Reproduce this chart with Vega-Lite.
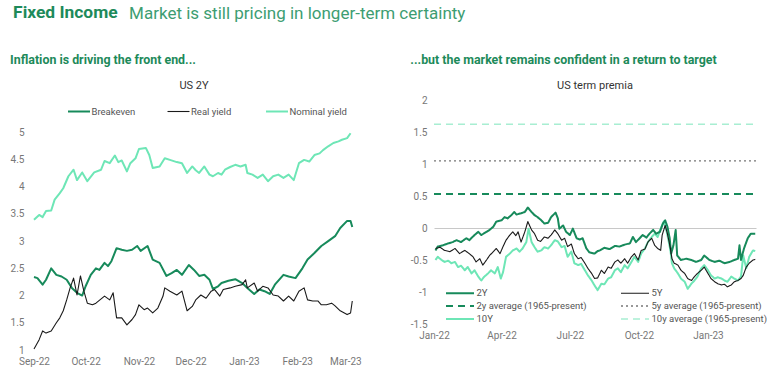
{
  "$schema": "https://vega.github.io/schema/vega-lite/v6.json",
  "background": "white",
  "padding": {"left": 10, "right": 10, "top": 4, "bottom": 4},
  "config": {
    "font": "Roboto",
    "view": {"stroke": null},
    "locale": {"number": {"decimal": ".", "thousands": ",", "grouping": [3], "currency": ["$", ""], "minus": "-"}},
    "axis": {"domain": false, "ticks": false, "grid": false, "labelFont": "Roboto", "labelFontSize": 10, "labelColor": "#777777", "labelFlush": false, "labelOverlap": false},
    "legend": {"labelFont": "Roboto", "labelFontSize": 9.5, "labelColor": "#555555"},
    "title": {"font": "Roboto"}
  },
  "datasets": {
    "us2y": [
      {"d":"2022-09-01","s":"Nominal yield","v":3.39},{"d":"2022-09-04","s":"Nominal yield","v":3.48},{"d":"2022-09-06","s":"Nominal yield","v":3.44},{"d":"2022-09-08","s":"Nominal yield","v":3.55},{"d":"2022-09-11","s":"Nominal yield","v":3.56},{"d":"2022-09-13","s":"Nominal yield","v":3.76},{"d":"2022-09-16","s":"Nominal yield","v":3.88},{"d":"2022-09-18","s":"Nominal yield","v":3.97},{"d":"2022-09-21","s":"Nominal yield","v":4.19},{"d":"2022-09-24","s":"Nominal yield","v":4.31},{"d":"2022-09-26","s":"Nominal yield","v":4.12},{"d":"2022-09-29","s":"Nominal yield","v":4.26},{"d":"2022-10-02","s":"Nominal yield","v":4.10},{"d":"2022-10-06","s":"Nominal yield","v":4.26},{"d":"2022-10-10","s":"Nominal yield","v":4.31},{"d":"2022-10-12","s":"Nominal yield","v":4.47},{"d":"2022-10-15","s":"Nominal yield","v":4.43},{"d":"2022-10-18","s":"Nominal yield","v":4.57},{"d":"2022-10-20","s":"Nominal yield","v":4.45},{"d":"2022-10-22","s":"Nominal yield","v":4.48},{"d":"2022-10-25","s":"Nominal yield","v":4.28},{"d":"2022-10-27","s":"Nominal yield","v":4.43},{"d":"2022-10-30","s":"Nominal yield","v":4.52},{"d":"2022-11-01","s":"Nominal yield","v":4.69},{"d":"2022-11-05","s":"Nominal yield","v":4.71},{"d":"2022-11-07","s":"Nominal yield","v":4.58},{"d":"2022-11-09","s":"Nominal yield","v":4.34},{"d":"2022-11-13","s":"Nominal yield","v":4.37},{"d":"2022-11-16","s":"Nominal yield","v":4.52},{"d":"2022-11-19","s":"Nominal yield","v":4.49},{"d":"2022-11-23","s":"Nominal yield","v":4.45},{"d":"2022-11-26","s":"Nominal yield","v":4.43},{"d":"2022-11-29","s":"Nominal yield","v":4.25},{"d":"2022-12-02","s":"Nominal yield","v":4.37},{"d":"2022-12-04","s":"Nominal yield","v":4.30},{"d":"2022-12-06","s":"Nominal yield","v":4.25},{"d":"2022-12-09","s":"Nominal yield","v":4.37},{"d":"2022-12-12","s":"Nominal yield","v":4.22},{"d":"2022-12-14","s":"Nominal yield","v":4.19},{"d":"2022-12-17","s":"Nominal yield","v":4.25},{"d":"2022-12-19","s":"Nominal yield","v":4.22},{"d":"2022-12-21","s":"Nominal yield","v":4.31},{"d":"2022-12-24","s":"Nominal yield","v":4.36},{"d":"2022-12-27","s":"Nominal yield","v":4.40},{"d":"2022-12-30","s":"Nominal yield","v":4.37},{"d":"2023-01-02","s":"Nominal yield","v":4.40},{"d":"2023-01-03","s":"Nominal yield","v":4.25},{"d":"2023-01-06","s":"Nominal yield","v":4.22},{"d":"2023-01-09","s":"Nominal yield","v":4.16},{"d":"2023-01-12","s":"Nominal yield","v":4.22},{"d":"2023-01-15","s":"Nominal yield","v":4.10},{"d":"2023-01-18","s":"Nominal yield","v":4.19},{"d":"2023-01-21","s":"Nominal yield","v":4.22},{"d":"2023-01-24","s":"Nominal yield","v":4.16},{"d":"2023-01-27","s":"Nominal yield","v":4.22},{"d":"2023-01-30","s":"Nominal yield","v":4.12},{"d":"2023-02-02","s":"Nominal yield","v":4.43},{"d":"2023-02-05","s":"Nominal yield","v":4.49},{"d":"2023-02-08","s":"Nominal yield","v":4.46},{"d":"2023-02-11","s":"Nominal yield","v":4.58},{"d":"2023-02-14","s":"Nominal yield","v":4.61},{"d":"2023-02-16","s":"Nominal yield","v":4.67},{"d":"2023-02-19","s":"Nominal yield","v":4.74},{"d":"2023-02-22","s":"Nominal yield","v":4.80},{"d":"2023-02-25","s":"Nominal yield","v":4.83},{"d":"2023-02-27","s":"Nominal yield","v":4.86},{"d":"2023-03-02","s":"Nominal yield","v":4.89},{"d":"2023-03-04","s":"Nominal yield","v":4.98},
      {"d":"2022-09-01","s":"Breakeven","v":2.34},{"d":"2022-09-03","s":"Breakeven","v":2.32},{"d":"2022-09-06","s":"Breakeven","v":2.20},{"d":"2022-09-08","s":"Breakeven","v":2.29},{"d":"2022-09-11","s":"Breakeven","v":2.50},{"d":"2022-09-14","s":"Breakeven","v":2.38},{"d":"2022-09-17","s":"Breakeven","v":2.35},{"d":"2022-09-20","s":"Breakeven","v":2.29},{"d":"2022-09-23","s":"Breakeven","v":2.14},{"d":"2022-09-26","s":"Breakeven","v":2.05},{"d":"2022-09-29","s":"Breakeven","v":2.00},{"d":"2022-10-01","s":"Breakeven","v":2.17},{"d":"2022-10-04","s":"Breakeven","v":2.38},{"d":"2022-10-07","s":"Breakeven","v":2.50},{"d":"2022-10-09","s":"Breakeven","v":2.47},{"d":"2022-10-12","s":"Breakeven","v":2.60},{"d":"2022-10-14","s":"Breakeven","v":2.54},{"d":"2022-10-16","s":"Breakeven","v":2.63},{"d":"2022-10-19","s":"Breakeven","v":2.87},{"d":"2022-10-22","s":"Breakeven","v":2.84},{"d":"2022-10-25","s":"Breakeven","v":2.82},{"d":"2022-10-28","s":"Breakeven","v":2.84},{"d":"2022-10-31","s":"Breakeven","v":2.91},{"d":"2022-11-02","s":"Breakeven","v":2.82},{"d":"2022-11-06","s":"Breakeven","v":2.91},{"d":"2022-11-09","s":"Breakeven","v":2.66},{"d":"2022-11-13","s":"Breakeven","v":2.60},{"d":"2022-11-17","s":"Breakeven","v":2.36},{"d":"2022-11-20","s":"Breakeven","v":2.41},{"d":"2022-11-23","s":"Breakeven","v":2.47},{"d":"2022-11-26","s":"Breakeven","v":2.38},{"d":"2022-11-30","s":"Breakeven","v":2.56},{"d":"2022-12-03","s":"Breakeven","v":2.47},{"d":"2022-12-06","s":"Breakeven","v":2.36},{"d":"2022-12-09","s":"Breakeven","v":2.38},{"d":"2022-12-12","s":"Breakeven","v":2.29},{"d":"2022-12-14","s":"Breakeven","v":2.12},{"d":"2022-12-17","s":"Breakeven","v":2.17},{"d":"2022-12-19","s":"Breakeven","v":2.23},{"d":"2022-12-23","s":"Breakeven","v":2.27},{"d":"2022-12-27","s":"Breakeven","v":2.30},{"d":"2022-12-31","s":"Breakeven","v":2.23},{"d":"2023-01-03","s":"Breakeven","v":2.14},{"d":"2023-01-07","s":"Breakeven","v":2.03},{"d":"2023-01-10","s":"Breakeven","v":2.11},{"d":"2023-01-13","s":"Breakeven","v":2.08},{"d":"2023-01-16","s":"Breakeven","v":2.03},{"d":"2023-01-19","s":"Breakeven","v":2.20},{"d":"2023-01-24","s":"Breakeven","v":2.38},{"d":"2023-01-27","s":"Breakeven","v":2.35},{"d":"2023-01-31","s":"Breakeven","v":2.32},{"d":"2023-02-04","s":"Breakeven","v":2.50},{"d":"2023-02-07","s":"Breakeven","v":2.66},{"d":"2023-02-11","s":"Breakeven","v":2.78},{"d":"2023-02-15","s":"Breakeven","v":2.91},{"d":"2023-02-19","s":"Breakeven","v":3.00},{"d":"2023-02-23","s":"Breakeven","v":3.09},{"d":"2023-02-26","s":"Breakeven","v":3.24},{"d":"2023-03-02","s":"Breakeven","v":3.37},{"d":"2023-03-04","s":"Breakeven","v":3.37},{"d":"2023-03-05","s":"Breakeven","v":3.26},
      {"d":"2022-09-01","s":"Real yield","v":1.02},{"d":"2022-09-04","s":"Real yield","v":1.19},{"d":"2022-09-06","s":"Real yield","v":1.35},{"d":"2022-09-08","s":"Real yield","v":1.31},{"d":"2022-09-11","s":"Real yield","v":1.35},{"d":"2022-09-14","s":"Real yield","v":1.50},{"d":"2022-09-16","s":"Real yield","v":1.59},{"d":"2022-09-18","s":"Real yield","v":1.72},{"d":"2022-09-20","s":"Real yield","v":1.92},{"d":"2022-09-22","s":"Real yield","v":2.14},{"d":"2022-09-24","s":"Real yield","v":2.32},{"d":"2022-09-26","s":"Real yield","v":2.01},{"d":"2022-09-28","s":"Real yield","v":2.36},{"d":"2022-09-30","s":"Real yield","v":2.08},{"d":"2022-10-02","s":"Real yield","v":1.86},{"d":"2022-10-05","s":"Real yield","v":1.83},{"d":"2022-10-07","s":"Real yield","v":1.86},{"d":"2022-10-12","s":"Real yield","v":1.99},{"d":"2022-10-15","s":"Real yield","v":1.92},{"d":"2022-10-17","s":"Real yield","v":2.05},{"d":"2022-10-19","s":"Real yield","v":1.59},{"d":"2022-10-22","s":"Real yield","v":1.59},{"d":"2022-10-25","s":"Real yield","v":1.46},{"d":"2022-10-28","s":"Real yield","v":1.56},{"d":"2022-10-30","s":"Real yield","v":1.65},{"d":"2022-11-01","s":"Real yield","v":1.83},{"d":"2022-11-04","s":"Real yield","v":1.74},{"d":"2022-11-06","s":"Real yield","v":1.77},{"d":"2022-11-09","s":"Real yield","v":1.68},{"d":"2022-11-12","s":"Real yield","v":1.77},{"d":"2022-11-15","s":"Real yield","v":1.99},{"d":"2022-11-16","s":"Real yield","v":2.14},{"d":"2022-11-19","s":"Real yield","v":2.08},{"d":"2022-11-23","s":"Real yield","v":2.01},{"d":"2022-11-26","s":"Real yield","v":2.08},{"d":"2022-11-29","s":"Real yield","v":1.72},{"d":"2022-12-02","s":"Real yield","v":1.80},{"d":"2022-12-04","s":"Real yield","v":1.92},{"d":"2022-12-07","s":"Real yield","v":2.01},{"d":"2022-12-10","s":"Real yield","v":1.95},{"d":"2022-12-13","s":"Real yield","v":2.08},{"d":"2022-12-15","s":"Real yield","v":2.11},{"d":"2022-12-18","s":"Real yield","v":1.99},{"d":"2022-12-20","s":"Real yield","v":2.11},{"d":"2022-12-24","s":"Real yield","v":2.14},{"d":"2022-12-27","s":"Real yield","v":2.17},{"d":"2022-12-31","s":"Real yield","v":2.20},{"d":"2023-01-02","s":"Real yield","v":2.29},{"d":"2023-01-03","s":"Real yield","v":2.14},{"d":"2023-01-07","s":"Real yield","v":2.23},{"d":"2023-01-09","s":"Real yield","v":2.08},{"d":"2023-01-12","s":"Real yield","v":2.17},{"d":"2023-01-15","s":"Real yield","v":2.14},{"d":"2023-01-18","s":"Real yield","v":2.01},{"d":"2023-01-21","s":"Real yield","v":1.99},{"d":"2023-01-24","s":"Real yield","v":1.90},{"d":"2023-01-27","s":"Real yield","v":1.99},{"d":"2023-01-30","s":"Real yield","v":1.90},{"d":"2023-02-02","s":"Real yield","v":2.08},{"d":"2023-02-05","s":"Real yield","v":2.14},{"d":"2023-02-07","s":"Real yield","v":1.92},{"d":"2023-02-10","s":"Real yield","v":1.90},{"d":"2023-02-13","s":"Real yield","v":1.90},{"d":"2023-02-15","s":"Real yield","v":1.83},{"d":"2023-02-18","s":"Real yield","v":1.83},{"d":"2023-02-21","s":"Real yield","v":1.86},{"d":"2023-02-23","s":"Real yield","v":1.81},{"d":"2023-02-26","s":"Real yield","v":1.72},{"d":"2023-03-02","s":"Real yield","v":1.65},{"d":"2023-03-04","s":"Real yield","v":1.68},{"d":"2023-03-05","s":"Real yield","v":1.90}
    ],
    "premia": [
      {"d":"2022-01-01","s":"2y average (1965-present)","v":0.53},{"d":"2023-03-06","s":"2y average (1965-present)","v":0.53},
      {"d":"2022-01-01","s":"5y average  (1965-present)","v":1.05},{"d":"2023-03-06","s":"5y average  (1965-present)","v":1.05},
      {"d":"2022-01-01","s":"10y average  (1965-present)","v":1.62},{"d":"2023-03-06","s":"10y average  (1965-present)","v":1.62},
      {"d":"2022-01-03","s":"10Y","v":-0.50},{"d":"2022-01-06","s":"10Y","v":-0.45},{"d":"2022-01-10","s":"10Y","v":-0.49},{"d":"2022-01-15","s":"10Y","v":-0.53},{"d":"2022-01-20","s":"10Y","v":-0.51},{"d":"2022-01-24","s":"10Y","v":-0.55},{"d":"2022-01-29","s":"10Y","v":-0.53},{"d":"2022-02-02","s":"10Y","v":-0.61},{"d":"2022-02-06","s":"10Y","v":-0.59},{"d":"2022-02-11","s":"10Y","v":-0.66},{"d":"2022-02-15","s":"10Y","v":-0.61},{"d":"2022-02-20","s":"10Y","v":-0.71},{"d":"2022-02-24","s":"10Y","v":-0.66},{"d":"2022-03-01","s":"10Y","v":-0.76},{"d":"2022-03-05","s":"10Y","v":-0.82},{"d":"2022-03-09","s":"10Y","v":-0.76},{"d":"2022-03-14","s":"10Y","v":-0.71},{"d":"2022-03-18","s":"10Y","v":-0.66},{"d":"2022-03-23","s":"10Y","v":-0.71},{"d":"2022-03-27","s":"10Y","v":-0.61},{"d":"2022-03-31","s":"10Y","v":-0.79},{"d":"2022-04-03","s":"10Y","v":-0.69},{"d":"2022-04-07","s":"10Y","v":-0.45},{"d":"2022-04-12","s":"10Y","v":-0.40},{"d":"2022-04-16","s":"10Y","v":-0.35},{"d":"2022-04-21","s":"10Y","v":-0.32},{"d":"2022-04-25","s":"10Y","v":-0.37},{"d":"2022-04-29","s":"10Y","v":-0.32},{"d":"2022-05-04","s":"10Y","v":-0.22},{"d":"2022-05-07","s":"10Y","v":-0.01},{"d":"2022-05-11","s":"10Y","v":-0.22},{"d":"2022-05-15","s":"10Y","v":-0.30},{"d":"2022-05-19","s":"10Y","v":-0.37},{"d":"2022-05-24","s":"10Y","v":-0.35},{"d":"2022-05-28","s":"10Y","v":-0.30},{"d":"2022-06-02","s":"10Y","v":-0.32},{"d":"2022-06-06","s":"10Y","v":-0.27},{"d":"2022-06-11","s":"10Y","v":-0.19},{"d":"2022-06-15","s":"10Y","v":-0.21},{"d":"2022-06-20","s":"10Y","v":-0.30},{"d":"2022-06-24","s":"10Y","v":-0.28},{"d":"2022-06-28","s":"10Y","v":-0.45},{"d":"2022-07-03","s":"10Y","v":-0.37},{"d":"2022-07-07","s":"10Y","v":-0.55},{"d":"2022-07-12","s":"10Y","v":-0.58},{"d":"2022-07-16","s":"10Y","v":-0.56},{"d":"2022-07-21","s":"10Y","v":-0.66},{"d":"2022-07-25","s":"10Y","v":-0.74},{"d":"2022-07-30","s":"10Y","v":-0.82},{"d":"2022-08-03","s":"10Y","v":-0.90},{"d":"2022-08-07","s":"10Y","v":-0.97},{"d":"2022-08-12","s":"10Y","v":-0.87},{"d":"2022-08-16","s":"10Y","v":-0.88},{"d":"2022-08-21","s":"10Y","v":-0.79},{"d":"2022-08-25","s":"10Y","v":-0.77},{"d":"2022-08-30","s":"10Y","v":-0.66},{"d":"2022-09-03","s":"10Y","v":-0.63},{"d":"2022-09-07","s":"10Y","v":-0.69},{"d":"2022-09-12","s":"10Y","v":-0.58},{"d":"2022-09-16","s":"10Y","v":-0.63},{"d":"2022-09-21","s":"10Y","v":-0.53},{"d":"2022-09-25","s":"10Y","v":-0.45},{"d":"2022-09-30","s":"10Y","v":-0.53},{"d":"2022-10-04","s":"10Y","v":-0.40},{"d":"2022-10-09","s":"10Y","v":-0.32},{"d":"2022-10-13","s":"10Y","v":-0.22},{"d":"2022-10-18","s":"10Y","v":-0.14},{"d":"2022-10-22","s":"10Y","v":-0.09},{"d":"2022-10-26","s":"10Y","v":-0.14},{"d":"2022-10-30","s":"10Y","v":-0.01},{"d":"2022-11-03","s":"10Y","v":0.10},{"d":"2022-11-05","s":"10Y","v":0.04},{"d":"2022-11-08","s":"10Y","v":-0.11},{"d":"2022-11-12","s":"10Y","v":-0.35},{"d":"2022-11-14","s":"10Y","v":-0.55},{"d":"2022-11-17","s":"10Y","v":-0.63},{"d":"2022-11-22","s":"10Y","v":-0.71},{"d":"2022-11-26","s":"10Y","v":-0.79},{"d":"2022-12-01","s":"10Y","v":-0.84},{"d":"2022-12-05","s":"10Y","v":-0.95},{"d":"2022-12-10","s":"10Y","v":-0.87},{"d":"2022-12-14","s":"10Y","v":-0.82},{"d":"2022-12-18","s":"10Y","v":-0.76},{"d":"2022-12-23","s":"10Y","v":-0.63},{"d":"2022-12-27","s":"10Y","v":-0.58},{"d":"2023-01-01","s":"10Y","v":-0.66},{"d":"2023-01-05","s":"10Y","v":-0.74},{"d":"2023-01-10","s":"10Y","v":-0.79},{"d":"2023-01-14","s":"10Y","v":-0.77},{"d":"2023-01-19","s":"10Y","v":-0.79},{"d":"2023-01-23","s":"10Y","v":-0.82},{"d":"2023-01-27","s":"10Y","v":-0.84},{"d":"2023-02-01","s":"10Y","v":-0.76},{"d":"2023-02-05","s":"10Y","v":-0.79},{"d":"2023-02-10","s":"10Y","v":-0.82},{"d":"2023-02-14","s":"10Y","v":-0.76},{"d":"2023-02-17","s":"10Y","v":-0.43},{"d":"2023-02-21","s":"10Y","v":-0.63},{"d":"2023-02-25","s":"10Y","v":-0.45},{"d":"2023-03-02","s":"10Y","v":-0.35},{"d":"2023-03-05","s":"10Y","v":-0.36},
      {"d":"2022-01-03","s":"2Y","v":-0.35},{"d":"2022-01-06","s":"2Y","v":-0.29},{"d":"2022-01-13","s":"2Y","v":-0.27},{"d":"2022-01-20","s":"2Y","v":-0.24},{"d":"2022-01-26","s":"2Y","v":-0.22},{"d":"2022-01-31","s":"2Y","v":-0.19},{"d":"2022-02-06","s":"2Y","v":-0.22},{"d":"2022-02-13","s":"2Y","v":-0.16},{"d":"2022-02-17","s":"2Y","v":-0.19},{"d":"2022-02-24","s":"2Y","v":-0.11},{"d":"2022-03-01","s":"2Y","v":-0.06},{"d":"2022-03-05","s":"2Y","v":-0.11},{"d":"2022-03-12","s":"2Y","v":-0.06},{"d":"2022-03-16","s":"2Y","v":-0.03},{"d":"2022-03-21","s":"2Y","v":0.02},{"d":"2022-03-25","s":"2Y","v":0.10},{"d":"2022-04-01","s":"2Y","v":0.12},{"d":"2022-04-05","s":"2Y","v":0.17},{"d":"2022-04-09","s":"2Y","v":0.15},{"d":"2022-04-14","s":"2Y","v":0.20},{"d":"2022-04-18","s":"2Y","v":0.25},{"d":"2022-04-21","s":"2Y","v":0.21},{"d":"2022-04-27","s":"2Y","v":0.23},{"d":"2022-05-02","s":"2Y","v":0.25},{"d":"2022-05-06","s":"2Y","v":0.32},{"d":"2022-05-11","s":"2Y","v":0.25},{"d":"2022-05-15","s":"2Y","v":0.20},{"d":"2022-05-19","s":"2Y","v":0.17},{"d":"2022-05-24","s":"2Y","v":0.12},{"d":"2022-05-28","s":"2Y","v":0.07},{"d":"2022-06-02","s":"2Y","v":0.08},{"d":"2022-06-06","s":"2Y","v":0.17},{"d":"2022-06-12","s":"2Y","v":0.24},{"d":"2022-06-15","s":"2Y","v":0.15},{"d":"2022-06-17","s":"2Y","v":-0.01},{"d":"2022-06-22","s":"2Y","v":0.04},{"d":"2022-06-26","s":"2Y","v":-0.06},{"d":"2022-07-01","s":"2Y","v":-0.11},{"d":"2022-07-05","s":"2Y","v":-0.01},{"d":"2022-07-10","s":"2Y","v":-0.16},{"d":"2022-07-14","s":"2Y","v":-0.18},{"d":"2022-07-18","s":"2Y","v":-0.16},{"d":"2022-07-23","s":"2Y","v":-0.32},{"d":"2022-07-27","s":"2Y","v":-0.38},{"d":"2022-08-03","s":"2Y","v":-0.40},{"d":"2022-08-07","s":"2Y","v":-0.36},{"d":"2022-08-10","s":"2Y","v":-0.35},{"d":"2022-08-16","s":"2Y","v":-0.31},{"d":"2022-08-23","s":"2Y","v":-0.33},{"d":"2022-08-30","s":"2Y","v":-0.28},{"d":"2022-09-05","s":"2Y","v":-0.29},{"d":"2022-09-12","s":"2Y","v":-0.26},{"d":"2022-09-19","s":"2Y","v":-0.24},{"d":"2022-09-23","s":"2Y","v":-0.14},{"d":"2022-09-27","s":"2Y","v":-0.22},{"d":"2022-10-02","s":"2Y","v":-0.16},{"d":"2022-10-06","s":"2Y","v":-0.11},{"d":"2022-10-11","s":"2Y","v":-0.15},{"d":"2022-10-15","s":"2Y","v":-0.09},{"d":"2022-10-20","s":"2Y","v":-0.03},{"d":"2022-10-24","s":"2Y","v":-0.09},{"d":"2022-10-29","s":"2Y","v":-0.06},{"d":"2022-11-02","s":"2Y","v":0.07},{"d":"2022-11-05","s":"2Y","v":0.12},{"d":"2022-11-08","s":"2Y","v":0.02},{"d":"2022-11-11","s":"2Y","v":-0.16},{"d":"2022-11-13","s":"2Y","v":-0.40},{"d":"2022-11-16","s":"2Y","v":-0.27},{"d":"2022-11-19","s":"2Y","v":-0.03},{"d":"2022-11-21","s":"2Y","v":-0.43},{"d":"2022-11-26","s":"2Y","v":-0.50},{"d":"2022-12-03","s":"2Y","v":-0.48},{"d":"2022-12-10","s":"2Y","v":-0.50},{"d":"2022-12-16","s":"2Y","v":-0.53},{"d":"2022-12-23","s":"2Y","v":-0.50},{"d":"2022-12-27","s":"2Y","v":-0.43},{"d":"2023-01-03","s":"2Y","v":-0.50},{"d":"2023-01-10","s":"2Y","v":-0.53},{"d":"2023-01-16","s":"2Y","v":-0.51},{"d":"2023-01-23","s":"2Y","v":-0.55},{"d":"2023-01-30","s":"2Y","v":-0.53},{"d":"2023-02-05","s":"2Y","v":-0.50},{"d":"2023-02-10","s":"2Y","v":-0.48},{"d":"2023-02-12","s":"2Y","v":-0.27},{"d":"2023-02-14","s":"2Y","v":-0.50},{"d":"2023-02-18","s":"2Y","v":-0.32},{"d":"2023-02-23","s":"2Y","v":-0.16},{"d":"2023-02-27","s":"2Y","v":-0.09},{"d":"2023-03-05","s":"2Y","v":-0.09},
      {"d":"2022-01-03","s":"5Y","v":-0.32},{"d":"2022-01-09","s":"5Y","v":-0.30},{"d":"2022-01-15","s":"5Y","v":-0.35},{"d":"2022-01-22","s":"5Y","v":-0.37},{"d":"2022-01-29","s":"5Y","v":-0.32},{"d":"2022-02-04","s":"5Y","v":-0.40},{"d":"2022-02-11","s":"5Y","v":-0.35},{"d":"2022-02-17","s":"5Y","v":-0.40},{"d":"2022-02-22","s":"5Y","v":-0.45},{"d":"2022-02-26","s":"5Y","v":-0.53},{"d":"2022-03-03","s":"5Y","v":-0.48},{"d":"2022-03-07","s":"5Y","v":-0.58},{"d":"2022-03-12","s":"5Y","v":-0.50},{"d":"2022-03-16","s":"5Y","v":-0.43},{"d":"2022-03-21","s":"5Y","v":-0.37},{"d":"2022-03-25","s":"5Y","v":-0.32},{"d":"2022-03-30","s":"5Y","v":-0.40},{"d":"2022-04-03","s":"5Y","v":-0.29},{"d":"2022-04-07","s":"5Y","v":-0.19},{"d":"2022-04-12","s":"5Y","v":-0.11},{"d":"2022-04-16","s":"5Y","v":-0.06},{"d":"2022-04-20","s":"5Y","v":-0.12},{"d":"2022-04-23","s":"5Y","v":-0.06},{"d":"2022-04-27","s":"5Y","v":-0.22},{"d":"2022-05-02","s":"5Y","v":-0.06},{"d":"2022-05-06","s":"5Y","v":0.10},{"d":"2022-05-11","s":"5Y","v":-0.03},{"d":"2022-05-15","s":"5Y","v":-0.09},{"d":"2022-05-19","s":"5Y","v":-0.19},{"d":"2022-05-23","s":"5Y","v":-0.21},{"d":"2022-05-28","s":"5Y","v":-0.14},{"d":"2022-06-02","s":"5Y","v":-0.16},{"d":"2022-06-06","s":"5Y","v":-0.11},{"d":"2022-06-11","s":"5Y","v":-0.03},{"d":"2022-06-15","s":"5Y","v":-0.09},{"d":"2022-06-20","s":"5Y","v":-0.19},{"d":"2022-06-24","s":"5Y","v":-0.16},{"d":"2022-06-28","s":"5Y","v":-0.29},{"d":"2022-07-03","s":"5Y","v":-0.25},{"d":"2022-07-07","s":"5Y","v":-0.40},{"d":"2022-07-12","s":"5Y","v":-0.48},{"d":"2022-07-16","s":"5Y","v":-0.46},{"d":"2022-07-21","s":"5Y","v":-0.55},{"d":"2022-07-25","s":"5Y","v":-0.63},{"d":"2022-07-30","s":"5Y","v":-0.71},{"d":"2022-08-03","s":"5Y","v":-0.79},{"d":"2022-08-07","s":"5Y","v":-0.78},{"d":"2022-08-12","s":"5Y","v":-0.66},{"d":"2022-08-16","s":"5Y","v":-0.71},{"d":"2022-08-21","s":"5Y","v":-0.61},{"d":"2022-08-25","s":"5Y","v":-0.63},{"d":"2022-08-30","s":"5Y","v":-0.53},{"d":"2022-09-03","s":"5Y","v":-0.50},{"d":"2022-09-07","s":"5Y","v":-0.55},{"d":"2022-09-12","s":"5Y","v":-0.48},{"d":"2022-09-16","s":"5Y","v":-0.55},{"d":"2022-09-21","s":"5Y","v":-0.45},{"d":"2022-09-25","s":"5Y","v":-0.40},{"d":"2022-09-30","s":"5Y","v":-0.50},{"d":"2022-10-04","s":"5Y","v":-0.35},{"d":"2022-10-09","s":"5Y","v":-0.33},{"d":"2022-10-13","s":"5Y","v":-0.22},{"d":"2022-10-18","s":"5Y","v":-0.16},{"d":"2022-10-22","s":"5Y","v":-0.27},{"d":"2022-10-26","s":"5Y","v":-0.32},{"d":"2022-10-30","s":"5Y","v":-0.35},{"d":"2022-11-01","s":"5Y","v":-0.11},{"d":"2022-11-05","s":"5Y","v":0.04},{"d":"2022-11-08","s":"5Y","v":-0.09},{"d":"2022-11-12","s":"5Y","v":-0.32},{"d":"2022-11-14","s":"5Y","v":-0.48},{"d":"2022-11-17","s":"5Y","v":-0.55},{"d":"2022-11-22","s":"5Y","v":-0.58},{"d":"2022-11-26","s":"5Y","v":-0.66},{"d":"2022-12-01","s":"5Y","v":-0.71},{"d":"2022-12-05","s":"5Y","v":-0.79},{"d":"2022-12-10","s":"5Y","v":-0.82},{"d":"2022-12-14","s":"5Y","v":-0.76},{"d":"2022-12-18","s":"5Y","v":-0.71},{"d":"2022-12-23","s":"5Y","v":-0.66},{"d":"2022-12-27","s":"5Y","v":-0.61},{"d":"2023-01-01","s":"5Y","v":-0.71},{"d":"2023-01-05","s":"5Y","v":-0.79},{"d":"2023-01-10","s":"5Y","v":-0.84},{"d":"2023-01-14","s":"5Y","v":-0.87},{"d":"2023-01-19","s":"5Y","v":-0.89},{"d":"2023-01-23","s":"5Y","v":-0.88},{"d":"2023-01-27","s":"5Y","v":-0.92},{"d":"2023-02-01","s":"5Y","v":-0.89},{"d":"2023-02-05","s":"5Y","v":-0.84},{"d":"2023-02-10","s":"5Y","v":-0.82},{"d":"2023-02-14","s":"5Y","v":-0.79},{"d":"2023-02-17","s":"5Y","v":-0.74},{"d":"2023-02-21","s":"5Y","v":-0.61},{"d":"2023-02-25","s":"5Y","v":-0.55},{"d":"2023-03-02","s":"5Y","v":-0.50},{"d":"2023-03-05","s":"5Y","v":-0.49}
    ]
  },
  "title": {"text": "Fixed Income", "anchor": "start", "fontSize": 17.4, "fontWeight": "bold", "color": "#1d8a5a", "dx": 3, "dy": 21},
  "resolve": {"scale": {"color": "independent", "strokeDash": "independent", "strokeWidth": "independent"}, "legend": {"color": "independent", "strokeDash": "independent", "strokeWidth": "independent"}},
  "vconcat": [
    {
      "title": {"text": "Market is still pricing in longer-term certainty", "anchor": "start", "fontSize": 17, "fontWeight": "normal", "color": "#3d9d72", "dx": 119, "offset": 31},
      "spacing": 48,
      "resolve": {"scale": {"color": "independent", "strokeDash": "independent", "strokeWidth": "independent"}, "legend": {"color": "independent", "strokeDash": "independent", "strokeWidth": "independent"}},
      "hconcat": [
        {
          "title": {"text": "Inflation is driving the front end...", "anchor": "start", "fontSize": 12.4, "fontWeight": "bold", "color": "#1d8a5a", "offset": 14},
          "resolve": {"scale": {"color": "independent", "strokeWidth": "independent"}, "legend": {"color": "independent", "strokeWidth": "independent"}},
          "vconcat": [
            {
              "title": {"text": "US 2Y", "anchor": "middle", "fontSize": 11, "fontWeight": "normal", "color": "#333333", "offset": 9},
              "width": 320,
              "height": 250,
              "data": {"name": "us2y"},
              "mark": {"type": "line", "strokeJoin": "round"},
              "encoding": {
                "x": {"field": "d", "type": "temporal", "title": null, "scale": {"domain": [{"year": 2022, "month": 9, "date": 1}, {"year": 2023, "month": 3, "date": 6}]}, "axis": {"format": "%b-%y", "tickCount": {"interval": "month", "step": 1}, "labelPadding": 6}},
                "y": {"field": "v", "type": "quantitative", "title": null, "scale": {"domain": [1, 5.59], "nice": false, "zero": false}, "axis": {"values": [1, 1.5, 2, 2.5, 3, 3.5, 4, 4.5, 5], "format": "~g", "labelPadding": 10}},
                "color": {"field": "s", "type": "nominal", "scale": {"domain": ["Breakeven", "Real yield", "Nominal yield"], "range": ["#178a5b", "#1a1a1a", "#6ee6b6"]}, "legend": {"orient": "none", "legendX": 38.5, "legendY": 5, "direction": "horizontal", "title": null, "symbolType": "M-2,0H2", "symbolSize": 121, "labelOffset": 6, "columnPadding": 29.5}},
                "strokeWidth": {"field": "s", "type": "nominal", "scale": {"type": "ordinal", "domain": ["Breakeven", "Real yield", "Nominal yield"], "range": [2, 1.1, 2]}, "legend": {"orient": "none", "legendX": 38.5, "legendY": 5, "direction": "horizontal", "title": null, "symbolType": "M-2,0H2", "symbolSize": 121, "labelOffset": 6, "columnPadding": 29.5}}
              }
            }
          ]
        },
        {
          "title": {"text": "...but the market remains confident in a return to target", "anchor": "start", "fontSize": 12.4, "fontWeight": "bold", "color": "#1d8a5a", "offset": 14},
          "resolve": {"scale": {"color": "independent", "strokeDash": "independent", "strokeWidth": "independent"}, "legend": {"color": "independent", "strokeDash": "independent", "strokeWidth": "independent"}},
          "vconcat": [
            {
              "title": {"text": "US term premia", "anchor": "middle", "fontSize": 11, "fontWeight": "normal", "color": "#333333", "offset": 4},
              "width": 322,
              "height": 224,
              "data": {"name": "premia"},
              "mark": {"type": "line", "strokeJoin": "round"},
              "encoding": {
                "x": {"field": "d", "type": "temporal", "title": null, "scale": {"domain": [{"year": 2022, "month": 1, "date": 1}, {"year": 2023, "month": 3, "date": 6}]}, "axis": {"format": "%b-%y", "tickCount": {"interval": "month", "step": 3}, "labelPadding": 6}},
                "y": {"field": "v", "type": "quantitative", "title": null, "scale": {"domain": [-1.5, 2], "nice": false, "zero": false}, "axis": {"values": [-1.5, -1, -0.5, 0, 0.5, 1, 1.5, 2], "format": "~g", "labelPadding": 7, "grid": true, "gridWidth": 1.2, "gridColor": {"condition": {"test": "datum.value === 0", "value": "#c8c8c8"}, "value": "transparent"}}},
                "color": {"field": "s", "type": "nominal", "scale": {"domain": ["2Y", "2y average (1965-present)", "10Y", "5Y", "5y average  (1965-present)", "10y average  (1965-present)"], "range": ["#178a5b", "#178a5b", "#6ee6b6", "#1a1a1a", "#777777", "#a8eed2"]}, "legend": {"orient": "none", "legendX": 18, "legendY": 185, "columns": 2, "title": null, "symbolType": "M-2,0H2", "symbolSize": 196, "labelOffset": 8.5, "columnPadding": 31, "rowPadding": 0}},
                "strokeDash": {"field": "s", "type": "nominal", "scale": {"domain": ["2Y", "2y average (1965-present)", "10Y", "5Y", "5y average  (1965-present)", "10y average  (1965-present)"], "range": [[1, 0], [7, 5], [1, 0], [1, 0], [2, 3], [7, 5]]}, "legend": {"orient": "none", "legendX": 18, "legendY": 185, "columns": 2, "title": null, "symbolType": "M-2,0H2", "symbolSize": 196, "labelOffset": 8.5, "columnPadding": 31, "rowPadding": 0}},
                "strokeWidth": {"field": "s", "type": "nominal", "scale": {"type": "ordinal", "domain": ["2Y", "2y average (1965-present)", "10Y", "5Y", "5y average  (1965-present)", "10y average  (1965-present)"], "range": [2, 2, 2, 1.1, 1.3, 1.5]}, "legend": {"orient": "none", "legendX": 18, "legendY": 185, "columns": 2, "title": null, "symbolType": "M-2,0H2", "symbolSize": 196, "labelOffset": 8.5, "columnPadding": 31, "rowPadding": 0}}
              }
            }
          ]
        }
      ]
    }
  ]
}
